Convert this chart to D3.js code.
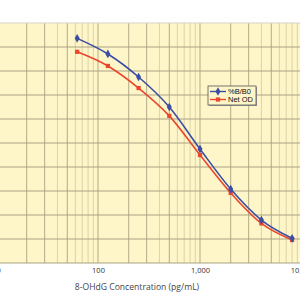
<!DOCTYPE html>
<html>
<head>
<meta charset="utf-8">
<script src="https://cdn.jsdelivr.net/npm/d3@7"></script>
<style>
  body { margin: 0; background: #fff; }
  svg { display: block; }
</style>
</head>
<body>
<svg id="chart" width="300" height="300"></svg>
<script>
// standard concentrations (pg/mL)
const concentrations = [62.5, 125, 250, 500, 1000, 2000, 4000, 8000];
// %B/B0 series
const bb0 = [93.6, 87.1, 77.5, 65.0, 47.5, 30.8, 17.9, 10.3];
// Net OD series (scaled to same axis)
const netOD = [88.0, 82.1, 72.9, 61.3, 45.0, 29.2, 16.5, 9.6];
const xTicks = [10, 100, 1000, 10000];
const yTicks = [0, 10, 20, 30, 40, 50, 60, 70, 80, 90, 100];
const seriesNames = ["%B/B0", "Net OD"];

const svg = d3.select("#chart");

let x = d3.scaleLog().domain([10, 10000]).range([-4, 302]);
let y = d3.scaleLinear().domain([0, 100]).range([263, 23]);

// plot background
svg.append("rect")
    .attr("x", x(10)).attr("y", y(100))
    .attr("width", x(10000) - x(10)).attr("height", y(0) - y(100))
    .attr("fill", "#fef6c8");

// minor / major vertical grid
let gridVals = [];
for (let dec = 10; dec < 10000; dec *= 10) {
    for (let m = 1; m <= 9; m++) gridVals.push(dec * m);
}
gridVals.push(10000);
let darkM = [1, 2, 3, 5];
svg.append("g").selectAll("line")
    .data(gridVals)
    .enter().append("line")
    .attr("x1", d => x(d)).attr("x2", d => x(d))
    .attr("y1", y(0)).attr("y2", y(100))
    .attr("stroke", d => {
        let m = Math.round(d / Math.pow(10, Math.floor(Math.log10(d) + 1e-9)));
        return darkM.includes(m) ? "#b3aa88" : "#dcd3a6";
    })
    .attr("stroke-width", 1);

// horizontal grid
svg.append("g").selectAll("line")
    .data(yTicks)
    .enter().append("line")
    .attr("x1", x(10)).attr("x2", x(10000))
    .attr("y1", d => y(d)).attr("y2", d => y(d))
    .attr("stroke", d => d === 100 ? "#d6d2c8" : "#aaa186")
    .attr("stroke-width", 1);

// x axis labels
let xAxis = d3.axisBottom(x)
    .tickValues(xTicks)
    .tickSize(0)
    .tickPadding(5)
    .tickFormat(d3.format(","));
let gx = svg.append("g")
    .attr("transform", "translate(0," + y(0) + ")")
    .call(xAxis);
gx.select(".domain").remove();
gx.selectAll("text")
    .style("font-family", "'Open Sans', sans-serif")
    .style("font-size", "7.5px")
    .attr("fill", "#333");

svg.append("text")
    .attr("x", 137).attr("y", 290)
    .attr("text-anchor", "middle")
    .style("font-family", "'Open Sans', sans-serif")
    .style("font-size", "8.6px")
    .attr("fill", "#444")
    .text("8-OHdG Concentration (pg/mL)");

// lines
let linefcn = d3.line()
    .x(d => x(d.c))
    .y(d => y(d.v))
    .curve(d3.curveMonotoneX);

let series = [
    {name: seriesNames[0], color: "#3c4ea3", shape: d3.symbolDiamond, size: 22,
        values: concentrations.map((c, i) => ({c: c, v: bb0[i]}))},
    {name: seriesNames[1], color: "#e9472e", shape: d3.symbolSquare, size: 18,
        values: concentrations.map((c, i) => ({c: c, v: netOD[i]}))}
];

// draw red first so blue sits on top
series.slice().reverse().forEach(s => {
    svg.append("path")
        .attr("d", linefcn(s.values))
        .attr("fill", "none")
        .attr("stroke", s.color)
        .attr("stroke-width", 1.6);
    svg.append("g").selectAll("path")
        .data(s.values)
        .enter().append("path")
        .attr("transform", d => "translate(" + x(d.c) + "," + y(d.v) + ")")
        .attr("d", d3.symbol().type(s.shape).size(s.size))
        .attr("fill", s.color);
});

// legend
let lg = svg.append("g").attr("transform", "translate(208,86)");
lg.append("rect")
    .attr("x", 1).attr("y", 1).attr("width", 48).attr("height", 19)
    .attr("fill", "#9a9a9a");
lg.append("rect")
    .attr("width", 48).attr("height", 19)
    .attr("fill", "#fef6c8")
    .attr("stroke", "#555").attr("stroke-width", 0.8);
series.forEach((s, i) => {
    let yy = 5.5 + i * 8;
    lg.append("line")
        .attr("x1", 2).attr("x2", 18).attr("y1", yy).attr("y2", yy)
        .attr("stroke", s.color).attr("stroke-width", 1.4);
    lg.append("path")
        .attr("transform", "translate(10," + yy + ")")
        .attr("d", d3.symbol().type(s.shape).size(s.size))
        .attr("fill", s.color);
    lg.append("text")
        .attr("x", 20).attr("y", yy + 2.6)
        .style("font-family", "'Liberation Sans', Arial, sans-serif")
        .style("font-size", "7.5px")
        .attr("fill", "#111")
        .text(s.name);
});
</script>
</body>
</html>
